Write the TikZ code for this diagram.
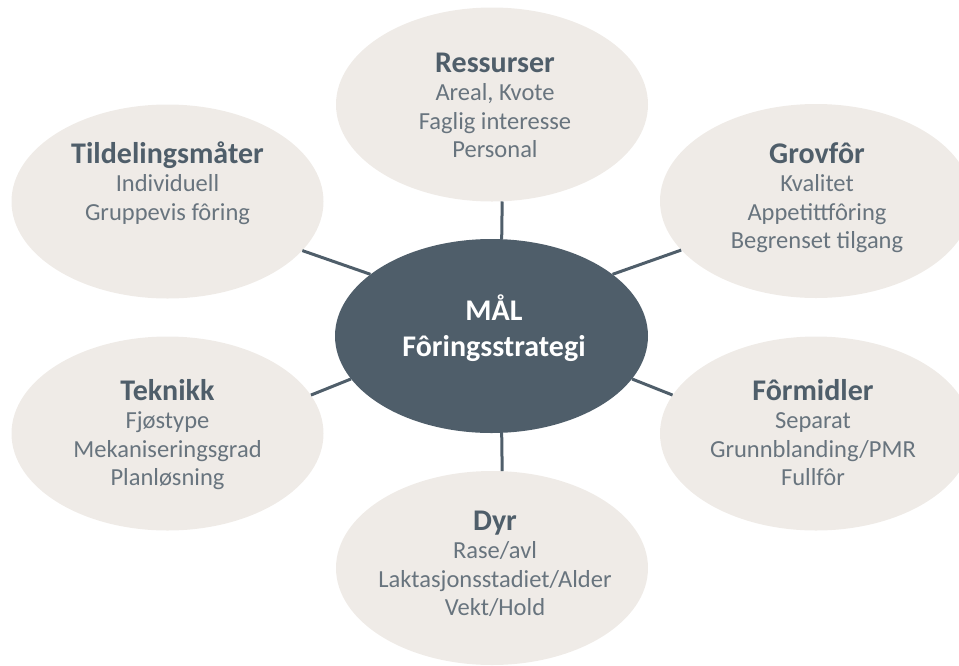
\documentclass[tikz,border=0pt]{standalone}
\usepackage{fontspec}
\setmainfont{Carlito}
\usetikzlibrary{shapes.geometric}
\definecolor{slate}{HTML}{4F5E6A}
\definecolor{bubblefill}{HTML}{EFEBE7}
\definecolor{bodygrey}{HTML}{68747E}
% bold heading line of a bubble; the rule fixes the height of the first line
\newcommand\bubblehead[1]{{\fontsize{30}{28.5}\selectfont\bfseries\color{slate}\rule{0pt}{25pt}#1}}
\begin{document}
\begin{tikzpicture}[x=1pt,y=-1pt,
  bubble/.style={ellipse, fill=bubblefill, minimum width=312pt, minimum height=194pt, inner sep=0pt},
  hub/.style={ellipse, fill=slate, minimum width=313pt, minimum height=194pt, inner sep=0pt},
  link/.style={draw=slate, line width=3pt},
  itemtext/.style={anchor=north, inner sep=0pt, align=center, text=bodygrey,
    font=\fontsize{24.5}{28.5}\selectfont},
  hubtext/.style={anchor=north, inner sep=0pt, align=center, text=white,
    font=\fontsize{30}{36}\selectfont\bfseries},
]
\useasboundingbox (0,0) rectangle (959,665);

% bubbles
\node[hub]    (hub)  at (491.5,336) {};
\node[bubble] (res)  at (492,104.5) {};
\node[bubble] (tild) at (167.5,201.5) {};
\node[bubble] (grov) at (816,201) {};
\node[bubble] (form) at (816,433.5) {};
\node[bubble] (tek)  at (167.5,433.5) {};
\node[bubble] (dyr)  at (492,568) {};

% connectors
\draw[link] (hub.84)     -- (res.-84);
\draw[link] (hub.-84)    -- (dyr.84);
\draw[link] (hub.153)    -- (tild.-20);
\draw[link] (hub.27.5)   -- (grov.-160);
\draw[link] (hub.-17)    -- (form.165);
\draw[link] (hub.-163.5) -- (tek.15);

% texts
\node[hubtext] (hubT) at (494,293) {\rule{0pt}{27pt}MÅL\\Fôringsstrategi};
\node[itemtext] (resT) at (495,47)
  {\bubblehead{Ressurser}\\Areal, Kvote\\Faglig interesse\\Personal};
\node[itemtext] (tildT) at (167.5,138)
  {\bubblehead{Tildelingsmåter}\\Individuell\\Gruppevis fôring};
\node[itemtext] (grovT) at (817,138)
  {\bubblehead{Grovfôr}\\Kvalitet\\Appetittfôring\\Begrenset tilgang};
\node[itemtext] (formT) at (813,375)
  {\bubblehead{Fôrmidler}\\Separat\\Grunnblanding/PMR\\Fullfôr};
\node[itemtext] (tekT) at (167.5,375)
  {\bubblehead{Teknikk}\\Fjøstype\\Mekaniseringsgrad\\Planløsning};
\node[itemtext] (dyrT) at (495,505)
  {\bubblehead{Dyr}\\Rase/avl\\Laktasjonsstadiet/Alder\\Vekt/Hold};
\end{tikzpicture}
\end{document}
